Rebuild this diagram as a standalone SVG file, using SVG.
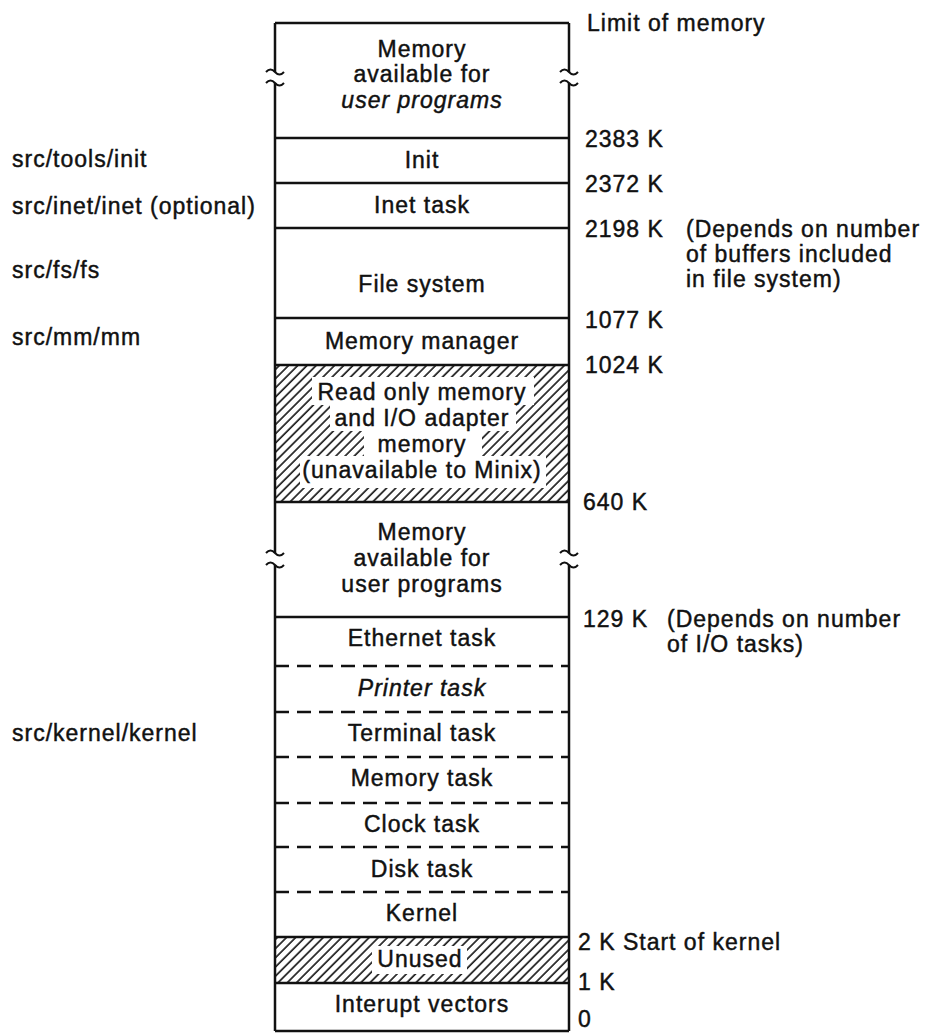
<svg xmlns="http://www.w3.org/2000/svg" width="926" height="1033" viewBox="0 0 926 1033">
<style>
text{font-family:"Liberation Sans",Arial,Helvetica,sans-serif;font-size:23px;letter-spacing:1px;fill:#111;stroke:#111;stroke-width:0.45}
.c{text-anchor:middle}
.i{font-style:italic}
.ln{stroke:#111;stroke-width:2.5;fill:none}
.d{stroke-dasharray:14 8}
.brk{stroke:#111;stroke-width:2;fill:none}
.ko{fill:#fff}
</style>
<defs>
<pattern id="hatch" patternUnits="userSpaceOnUse" width="6.5" height="6.5" patternTransform="rotate(45)">
<line x1="1" y1="0" x2="1" y2="6.5" stroke="#111" stroke-width="1.6"/>
</pattern>
</defs>
<rect width="926" height="1033" fill="#fff"/>

<g id="blk-user-top">
<text class="c" x="422" y="57">Memory</text>
<text class="c" x="422" y="82">available for</text>
<text class="c i" x="422" y="108">user programs</text>
</g>
<g id="blk-init"><text class="c" x="422" y="168">Init</text></g>
<g id="blk-inet"><text class="c" x="422" y="213">Inet task</text></g>
<g id="blk-fs"><text class="c" x="422" y="292">File system</text></g>
<g id="blk-mm"><text class="c" x="422" y="349">Memory manager</text></g>
<g id="blk-rom">
<rect x="275" y="365" width="294" height="137" fill="url(#hatch)"/>
<rect class="ko" x="312" y="377" width="222" height="28"/>
<rect class="ko" x="330" y="404" width="186" height="27"/>
<rect class="ko" x="364" y="430" width="118" height="27"/>
<rect class="ko" x="300" y="456" width="246" height="32"/>
<text class="c" x="422" y="400">Read only memory</text>
<text class="c" x="422" y="426">and I/O adapter</text>
<text class="c" x="422" y="452">memory</text>
<text class="c" x="422" y="478">(unavailable to Minix)</text>
</g>
<g id="blk-user-low">
<text class="c" x="422" y="540">Memory</text>
<text class="c" x="422" y="566">available for</text>
<text class="c" x="422" y="592">user programs</text>
</g>
<g id="blk-ethernet"><text class="c" x="422" y="646">Ethernet task</text></g>
<g id="blk-printer"><text class="c i" x="422" y="696">Printer task</text></g>
<g id="blk-terminal"><text class="c" x="422" y="741">Terminal task</text></g>
<g id="blk-memtask"><text class="c" x="422" y="786">Memory task</text></g>
<g id="blk-clock"><text class="c" x="422" y="832">Clock task</text></g>
<g id="blk-disk"><text class="c" x="422" y="877">Disk task</text></g>
<g id="blk-kernel"><text class="c" x="422" y="921">Kernel</text></g>
<g id="blk-unused">
<rect x="275" y="937" width="294" height="46" fill="url(#hatch)"/>
<rect class="ko" x="372" y="946" width="95" height="28"/>
<text class="c" x="420" y="967">Unused</text>
</g>
<g id="blk-vectors"><text class="c" x="422" y="1012">Interupt vectors</text></g>

<g id="lines">
<path class="ln" d="M275,23 H569 M275,1031 H569"/>
<path class="ln" d="M275,23 V72 M275,83 V553 M275,565 V1031"/>
<path class="ln" d="M569,23 V72 M569,83 V553 M569,565 V1031"/>
<path class="brk" d="M266,72 q4.5,-5 9,0 t9,0 M266,83 q4.5,-5 9,0 t9,0 M560,72 q4.5,-5 9,0 t9,0 M560,83 q4.5,-5 9,0 t9,0"/>
<path class="brk" d="M266,553 q4.5,-5 9,0 t9,0 M266,565 q4.5,-5 9,0 t9,0 M560,553 q4.5,-5 9,0 t9,0 M560,565 q4.5,-5 9,0 t9,0"/>
<path class="ln" d="M275,138 H569 M275,183 H569 M275,228 H569 M275,318 H569 M275,365 H569 M275,502 H569 M275,617 H569 M275,937 H569 M275,983 H569"/>
<path class="ln d" d="M275,666 H569 M275,712 H569 M275,757 H569 M275,803 H569 M275,847 H569 M275,892 H569"/>
</g>

<g id="labels-left">
<text x="12" y="167">src/tools/init</text>
<text x="12" y="214">src/inet/inet (optional)</text>
<text x="12" y="278">src/fs/fs</text>
<text x="12" y="345">src/mm/mm</text>
<text x="12" y="741">src/kernel/kernel</text>
</g>

<g id="labels-right">
<text x="587" y="31">Limit of memory</text>
<text x="585" y="147">2383 K</text>
<text x="585" y="192">2372 K</text>
<text x="585" y="237">2198 K</text>
<text x="686" y="237">(Depends on number</text>
<text x="686" y="262">of buffers included</text>
<text x="686" y="287">in file system)</text>
<text x="585" y="328">1077 K</text>
<text x="585" y="373">1024 K</text>
<text x="583" y="510">640 K</text>
<text x="583" y="627">129 K</text>
<text x="667" y="627">(Depends on number</text>
<text x="667" y="652">of I/O tasks)</text>
<text x="578" y="950">2 K Start of kernel</text>
<text x="578" y="990">1 K</text>
<text x="578" y="1027">0</text>
</g>
</svg>
